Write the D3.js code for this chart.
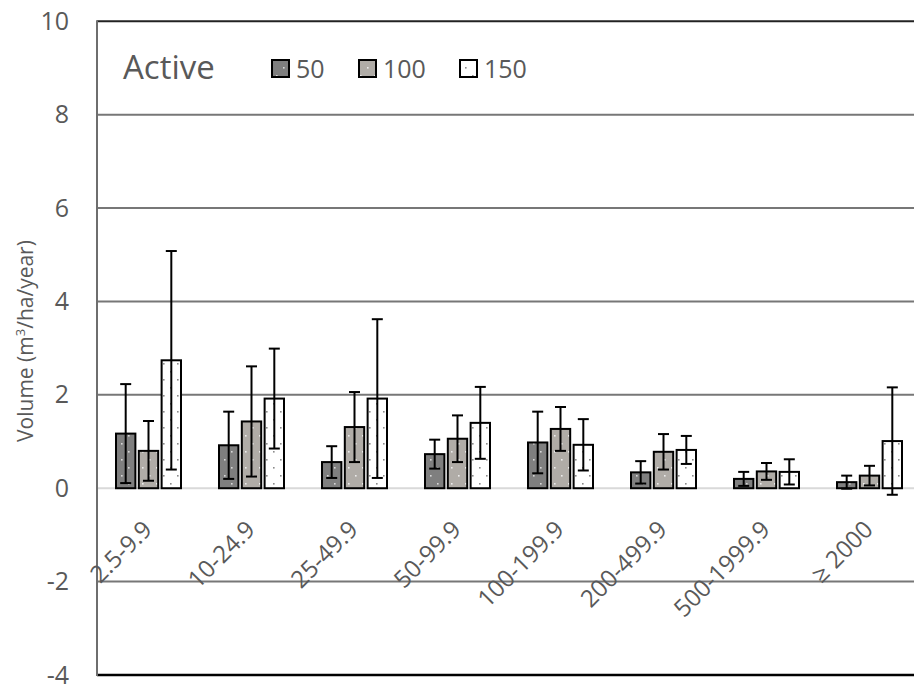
<!DOCTYPE html>
<html>
<head>
<meta charset="utf-8">
<script src="https://cdn.jsdelivr.net/npm/d3@7"></script>
<style>
  html, body { margin: 0; padding: 0; background: #fff; }
  svg { display: block; font-family: "Open Sans", Lato, sans-serif; }
</style>
</head>
<body>
<svg id="chart" width="914" height="689"></svg>
<script>
// Size classes (x axis)
const categories = ["2.5-9.9", "10-24.9", "25-49.9", "50-99.9", "100-199.9", "200-499.9", "500-1999.9", "\u2265 2000"];
// Series names
const seriesNames = ["50", "100", "150"];
// Mean volume per series
const mean50  = [1.17, 0.92, 0.56, 0.73, 0.98, 0.34, 0.20, 0.13];
const mean100 = [0.80, 1.43, 1.31, 1.06, 1.27, 0.78, 0.36, 0.27];
const mean150 = [2.74, 1.92, 1.92, 1.40, 0.93, 0.82, 0.35, 1.01];
// Standard deviation per series
const sd50  = [1.06, 0.72, 0.34, 0.31, 0.66, 0.24, 0.15, 0.14];
const sd100 = [0.64, 1.18, 0.75, 0.50, 0.47, 0.38, 0.18, 0.21];
const sd150 = [2.34, 1.07, 1.70, 0.77, 0.55, 0.30, 0.27, 1.15];
// Y axis ticks
const yTicks = [-4, -2, 0, 2, 4, 6, 8, 10];

const means = [mean50, mean100, mean150];
const sds = [sd50, sd100, sd150];
const fills = ["url(#dots-dark)", "url(#dots-mid)", "url(#dots-light)"];

const svg = d3.select("#chart");
const plotLeft = 97, plotRight = 921, plotTop = 21.3, plotBottom = 675;

const y = d3.scaleLinear().domain([-4, 10]).range([plotBottom, plotTop]);
const x = d3.scaleBand().domain(categories).range([plotLeft, plotRight]).padding(0);
const xs = d3.scaleBand().domain(seriesNames).range([19, 84]).paddingInner(0.15);

// Dotted fill patterns
const defs = svg.append("defs");
function dotPattern(id, bg, dot) {
  const p = defs.append("pattern").attr("id", id).attr("patternUnits", "userSpaceOnUse")
    .attr("width", 14).attr("height", 16);
  p.append("rect").attr("width", 14).attr("height", 16).attr("fill", bg);
  p.append("rect").attr("x", 3).attr("y", 3).attr("width", 1.6).attr("height", 1.6).attr("fill", dot);
  p.append("rect").attr("x", 10).attr("y", 11).attr("width", 1.6).attr("height", 1.6).attr("fill", dot);
}
dotPattern("dots-dark", "#7f7f7f", "#d8d8d8");
dotPattern("dots-mid", "#b0aca7", "#ececec");
dotPattern("dots-light", "#ffffff", "#8c8c8c");

defs.append("clipPath").attr("id", "label-clip")
  .append("rect").attr("x", 89).attr("y", 0).attr("width", 900).attr("height", 689);

// Gridlines
svg.append("g").selectAll("line")
  .data(yTicks.filter(t => t !== -4 && t !== 10))
  .join("line")
  .attr("x1", plotLeft).attr("x2", plotRight)
  .attr("y1", d => y(d)).attr("y2", d => y(d))
  .attr("stroke", d => d === 0 ? "#d9d9d9" : "#777777")
  .attr("stroke-width", 2);

// Frame
svg.append("line").attr("x1", plotLeft).attr("x2", plotRight).attr("y1", y(10)).attr("y2", y(10))
  .attr("stroke", "#222").attr("stroke-width", 2);
svg.append("line").attr("x1", plotLeft).attr("x2", plotRight).attr("y1", y(-4)).attr("y2", y(-4))
  .attr("stroke", "#000").attr("stroke-width", 2.5);
svg.append("line").attr("x1", plotLeft).attr("x2", plotLeft).attr("y1", y(10) - 1).attr("y2", y(-4) + 1)
  .attr("stroke", "#6e6e6e").attr("stroke-width", 2);

// Y axis labels (plain hyphen for negatives)
const yAxis = svg.append("g").attr("transform", `translate(${plotLeft},0)`)
  .call(d3.axisLeft(y).tickValues(yTicks).tickSize(0).tickPadding(28).tickFormat(d => String(d)));
yAxis.select(".domain").remove();
yAxis.selectAll("text").attr("font-size", 25).attr("fill", "#595959")
  .attr("font-family", "'Open Sans', Lato, sans-serif");

// Y axis title
svg.append("text")
  .attr("transform", `translate(33, 341) rotate(-90)`)
  .attr("text-anchor", "middle").attr("font-size", 21).attr("fill", "#595959")
  .html('Volume (m<tspan dy="-8" font-size="13">3</tspan><tspan dy="8">/ha/year)</tspan>');

// Bars
const groups = svg.append("g").selectAll("g")
  .data(categories)
  .join("g")
  .attr("transform", d => `translate(${x(d)},0)`);

groups.each(function(cat, i) {
  const g = d3.select(this);
  seriesNames.forEach((s, j) => {
    const v = means[j][i];
    g.append("rect")
      .attr("x", xs(s)).attr("width", xs.bandwidth())
      .attr("y", y(v)).attr("height", y(0) - y(v))
      .attr("fill", fills[j]).attr("stroke", "#000").attr("stroke-width", 2);
  });
  seriesNames.forEach((s, j) => {
    const v = means[j][i], e = sds[j][i];
    const cx = xs(s) + xs.bandwidth() / 2;
    const hi = y(v + e), lo = y(v - e);
    g.append("line").attr("x1", cx).attr("x2", cx).attr("y1", hi).attr("y2", lo)
      .attr("stroke", "#000").attr("stroke-width", 2);
    [hi, lo].forEach(yy => g.append("line")
      .attr("x1", cx - 5.5).attr("x2", cx + 5.5).attr("y1", yy).attr("y2", yy)
      .attr("stroke", "#000").attr("stroke-width", 2));
  });
});

// X labels
svg.append("g").attr("clip-path", "url(#label-clip)").selectAll("text")
  .data(categories)
  .join("text")
  .attr("transform", d => `translate(${x(d) + x.bandwidth() / 2 + 5}, 531) rotate(-45)`)
  .attr("text-anchor", "end").attr("font-size", 24).attr("fill", "#595959")
  .text(d => d);

// Legend
svg.append("text").attr("x", 123).attr("y", 79).attr("font-size", 33).attr("fill", "#595959").text("Active");
const legendX = [272, 359, 460];
seriesNames.forEach((s, j) => {
  svg.append("rect").attr("x", legendX[j]).attr("y", 60).attr("width", 17).attr("height", 17)
    .attr("fill", fills[j]).attr("stroke", "#000").attr("stroke-width", 2);
  svg.append("text").attr("x", legendX[j] + 24).attr("y", 78).attr("font-size", 25)
    .attr("fill", "#595959").text(s);
});
</script>
</body>
</html>
